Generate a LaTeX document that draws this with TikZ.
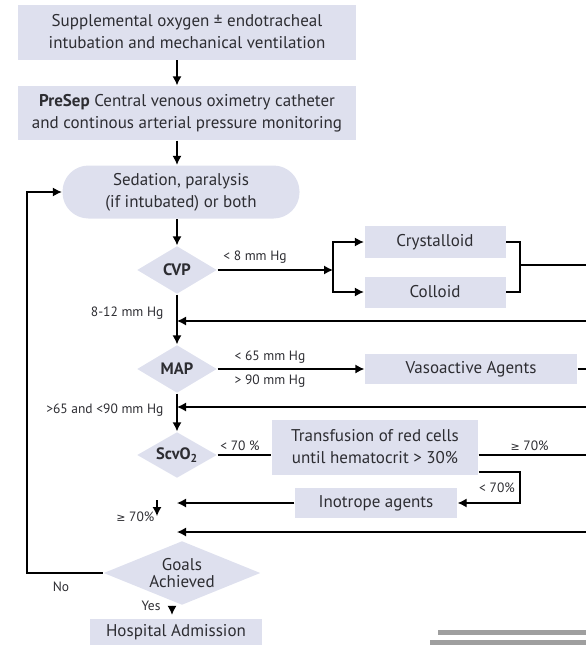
\documentclass[tikz,border=0pt]{standalone}
\usepackage{fontspec}
\setmainfont{PT Sans}
\newfontfamily\symf{DejaVu Sans}
\usetikzlibrary{shapes.geometric}
\usetikzlibrary{arrows.meta}
\definecolor{fcbg}{RGB}{222,224,238}
\definecolor{fctx}{RGB}{45,45,50}
\newcommand{\fcge}{{\symf\fontsize{11}{12}\selectfont ≥}}
\tikzset{fcp/.style={
  x=1pt,
  y=-1pt,
  line width=1.3pt,
  font=\fontsize{17}{22}\selectfont,
  text=fctx
}}
\tikzset{fcn/.style={
  fill=fcbg,
  shape=rectangle,
  align=center,
  inner sep=2pt,
}}
\tikzset{fcd/.style={
  fcn,
  shape=diamond,
  inner sep=0pt,
  aspect=2.5,
  font=\fontsize{16.5}{16}\selectfont\bfseries,
}}
\tikzset{fcl/.style={font=\fontsize{13.5}{14}\selectfont,inner sep=1pt}}
\tikzset{fca/.style={-{Latex[length=9pt,width=9pt]}}}

\begin{document}
\begin{tikzpicture}[fcp]
    \useasboundingbox (0,0) rectangle (586,645);
    % Boxes
    \node[fcn,minimum width=338,minimum height=55] (oxy) at (187,32)
      {Supplemental oxygen ± endotracheal\\intubation and mechanical ventilation};
    \node[fcn,minimum width=338,minimum height=54] (psep) at (187,113)
      {\textbf{PreSep} Central venous oximetry catheter\\and continous arterial pressure monitoring};
    \node[fcn,rounded corners=26pt,minimum width=237,minimum height=53] (sed) at (181,192)
      {Sedation, paralysis\\(if intubated) or both};
    \node[fcd,minimum width=80,minimum height=48] (cvp) at (177,270) {CVP};
    \node[fcn,minimum width=141,minimum height=32] (cry) at (435,242) {Crystalloid};
    \node[fcn,minimum width=141,minimum height=31] (col) at (435,292) {Colloid};
    \node[fcd,minimum width=80,minimum height=48] (map) at (177,369) {MAP};
    \node[fcn,minimum width=212,minimum height=30] (vaso) at (471,369) {Vasoactive Agents};
    \node[fcd,minimum width=80,minimum height=46] (scv) at (177,455) {ScvO\textsubscript{2}};
    \node[fcn,minimum width=206,minimum height=55] (trans) at (375,447)
      {Transfusion of red cells\\until hematocrit > 30\%};
    \node[fcn,minimum width=162,minimum height=30] (ino) at (376,503) {Inotrope agents};
    \node[fcd,font=\fontsize{17}{17}\selectfont,minimum width=157,minimum height=64] (goal) at (182,573)
      {Goals\\Achieved};
    \node[fcn,minimum width=172,minimum height=27] (hosp) at (176,632) {Hospital Admission};
    % Free ends
    \coordinate (jn) at (333,270);
    \coordinate (jr) at (520,265);
    \coordinate (jb) at (520,490);
    \coordinate (lft) at (27,0);
    \coordinate (ys) at (172,0);
    \coordinate (r1) at (586,321);
    \coordinate (r2) at (586,407);
    \coordinate (r3) at (586,532);
    \coordinate (ok1) at (157,500);
    \coordinate (ok2) at (157,516);
    % Main chain
    \draw[fca] (oxy.south -| cvp) -- (psep.north -| cvp);
    \draw[fca] (psep.south -| cvp) -- (sed.north -| cvp);
    \draw[fca] (sed.south -| cvp) -- (cvp.north);
    \draw[fca] (cvp.south) -- (map.north);
    \draw[fca] (map.south) -- (scv.north);
    \draw[fca,shorten >=3pt] (goal.south -| ys) -- (hosp.north -| ys);
    \draw[fca] (ok1) -- (ok2);
    % Fluids
    \draw[fca] (cvp.east) -- (jn);
    \draw[fca] (jn) |- (cry.west);
    \draw[fca] (jn) |- (col.west);
    \draw (cry.east) -| (jr) |- (col.east);
    \draw (jr) -- (jr -| r1);
    % Vasoactive
    \draw[fca] (map.east) -- (vaso.west);
    \draw (vaso.east) -- (vaso.east -| r1);
    % Transfusion/inotropes
    \draw (scv.east) -- (trans.west |- scv.east);
    \draw (trans.east |- 0,455) -- (r1 |- 0,455);
    \draw[fca] (trans.east |- 0,472) -| (jb) |- (ino.east);
    \draw[fca] (ino.west) -- (ino.west -| cvp);
    % Returns
    \draw[fca] (r1) -- (r1 -| cvp);
    \draw[fca] (r2) -- (r2 -| cvp);
    \draw[fca] (r3) -- (r3 -| cvp);
    \draw[fca] (goal.west) -| (lft |- sed.west) -- (sed.west);
    % Labels
    \node[fcl] at (255,257) {< 8 mm Hg};
    \node[fcl,anchor=east] at (165,313) {8-12 mm Hg};
    \node[fcl] at (270,357) {< 65 mm Hg};
    \node[fcl] at (270,381) {> 90 mm Hg};
    \node[fcl,anchor=east] at (165,410) {>65 and <90 mm Hg};
    \node[fcl] at (240,446) {< 70 \%};
    \node[fcl,anchor=west] at (509,446) {\fcge{} 70\%};
    \node[fcl] at (497,488) {< 70\%};
    \node[fcl,anchor=east] at (156,517) {\fcge{} 70\%};
    \node[fcl] at (61,587) {No};
    \node[fcl] at (151,606) {Yes};
    % Bars
    \fill[gray!75] (438,630) rectangle (586,635);
    \fill[gray!75] (430,640) rectangle (586,645);
\end{tikzpicture}
\end{document}
